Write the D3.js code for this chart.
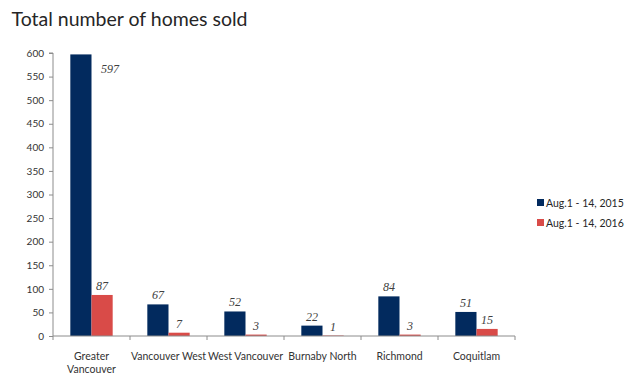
<!DOCTYPE html>
<html><head><meta charset="utf-8">
<script src="https://cdn.jsdelivr.net/npm/d3@7"></script>
<style>body{margin:0;background:#fff}svg{display:block}</style>
</head><body><svg id="c" width="640" height="375"></svg>
<script>
const categories = ["Greater Vancouver","Vancouver West","West Vancouver","Burnaby North","Richmond","Coquitlam"];
const categoryLines = [["Greater","Vancouver"],["Vancouver West"],["West Vancouver"],["Burnaby North"],["Richmond"],["Coquitlam"]];
const seriesNames = ["Aug.1 - 14, 2015","Aug.1 - 14, 2016"];
const values2015 = [597,67,52,22,84,51];
const values2016 = [87,7,3,1,3,15];
const yTicks = [0,50,100,150,200,250,300,350,400,450,500,550,600];
const colors = ["#022a5e","#d94b48"];

const svg = d3.select("#c");
const font = "Lato, 'Open Sans', sans-serif";
const x0 = 53, x1 = 515, yTop = 53, yBot = 336;

svg.append("text").attr("x",11.5).attr("y",26).attr("font-family",font).attr("font-size",19.5)
  .attr("fill","#262626").text("Total number of homes sold");

const x = d3.scaleBand().domain(categories).range([x0,x1]).paddingInner(0).paddingOuter(0);
const groupPad = 0.225;
const xs = d3.scaleBand().domain([0,1]).range([x.bandwidth()*groupPad, x.bandwidth()*(1-groupPad)]).padding(0);
const y = d3.scaleLinear().domain([0,600]).range([yBot,yTop]);

const series = [values2015, values2016];
series.forEach((vals,si)=>{
  svg.append("g").selectAll("rect").data(vals).join("rect")
    .attr("x",(d,i)=>x(categories[i])+xs(si))
    .attr("y",d=>y(d)).attr("width",xs.bandwidth()).attr("height",d=>yBot-y(d))
    .attr("fill",colors[si]);
});
series.forEach((vals,si)=>{
  svg.append("g").selectAll("text").data(vals).join("text")
    .attr("x",(d,i)=>{
      const cx = x(categories[i])+xs(si)+xs.bandwidth()/2;
      return (y(d)-14 < yTop) ? cx + 29 : cx;
    })
    .attr("y",d=>(y(d)-14 < yTop) ? y(d)+19 : y(d)-5)
    .attr("text-anchor","middle").attr("font-family","'Liberation Serif', 'DejaVu Serif', serif")
    .attr("font-style","italic").attr("font-size",12).attr("fill","#404040").text(d=>d);
});

// y axis
const ya = svg.append("g").attr("transform",`translate(${x0},0)`)
  .call(d3.axisLeft(y).tickValues(yTicks).tickSize(4).tickPadding(5));
ya.select(".domain").attr("stroke","#8c8c8c").attr("d",`M-4,${yTop}H0V${yBot}`);
ya.selectAll(".tick line").attr("stroke","#8c8c8c");
ya.selectAll(".tick text").attr("font-family",font).attr("font-size",10).attr("fill","#333");

// x axis
const xa = svg.append("g").attr("transform",`translate(0,${yBot})`);
xa.append("line").attr("x1",x0).attr("x2",x1).attr("stroke","#8c8c8c");
xa.selectAll("line.t").data(categories.concat(["end"])).join("line").attr("class","t")
  .attr("x1",(d,i)=>i<categories.length?x(d):x1).attr("x2",(d,i)=>i<categories.length?x(d):x1)
  .attr("y1",0).attr("y2",4).attr("stroke","#8c8c8c");
const labs = xa.selectAll("text").data(categories).join("text")
  .attr("text-anchor","middle").attr("font-family",font).attr("font-size",10.5).attr("fill","#333")
  .attr("transform",d=>`translate(${x(d)+x.bandwidth()/2},0)`);
labs.each(function(d,i){
  const t = d3.select(this);
  categoryLines[i].forEach((ln,j)=>t.append("tspan").attr("x",0).attr("y",24+j*13).text(ln));
});

// legend
const lg = svg.append("g").attr("transform","translate(537,199)");
seriesNames.forEach((n,i)=>{
  lg.append("rect").attr("x",0).attr("y",i*20).attr("width",7).attr("height",7).attr("fill",colors[i]);
  lg.append("text").attr("x",9).attr("y",i*20+7.5).attr("font-family",font).attr("font-size",10.5)
    .attr("fill","#262626").text(n);
});
</script></body></html>
